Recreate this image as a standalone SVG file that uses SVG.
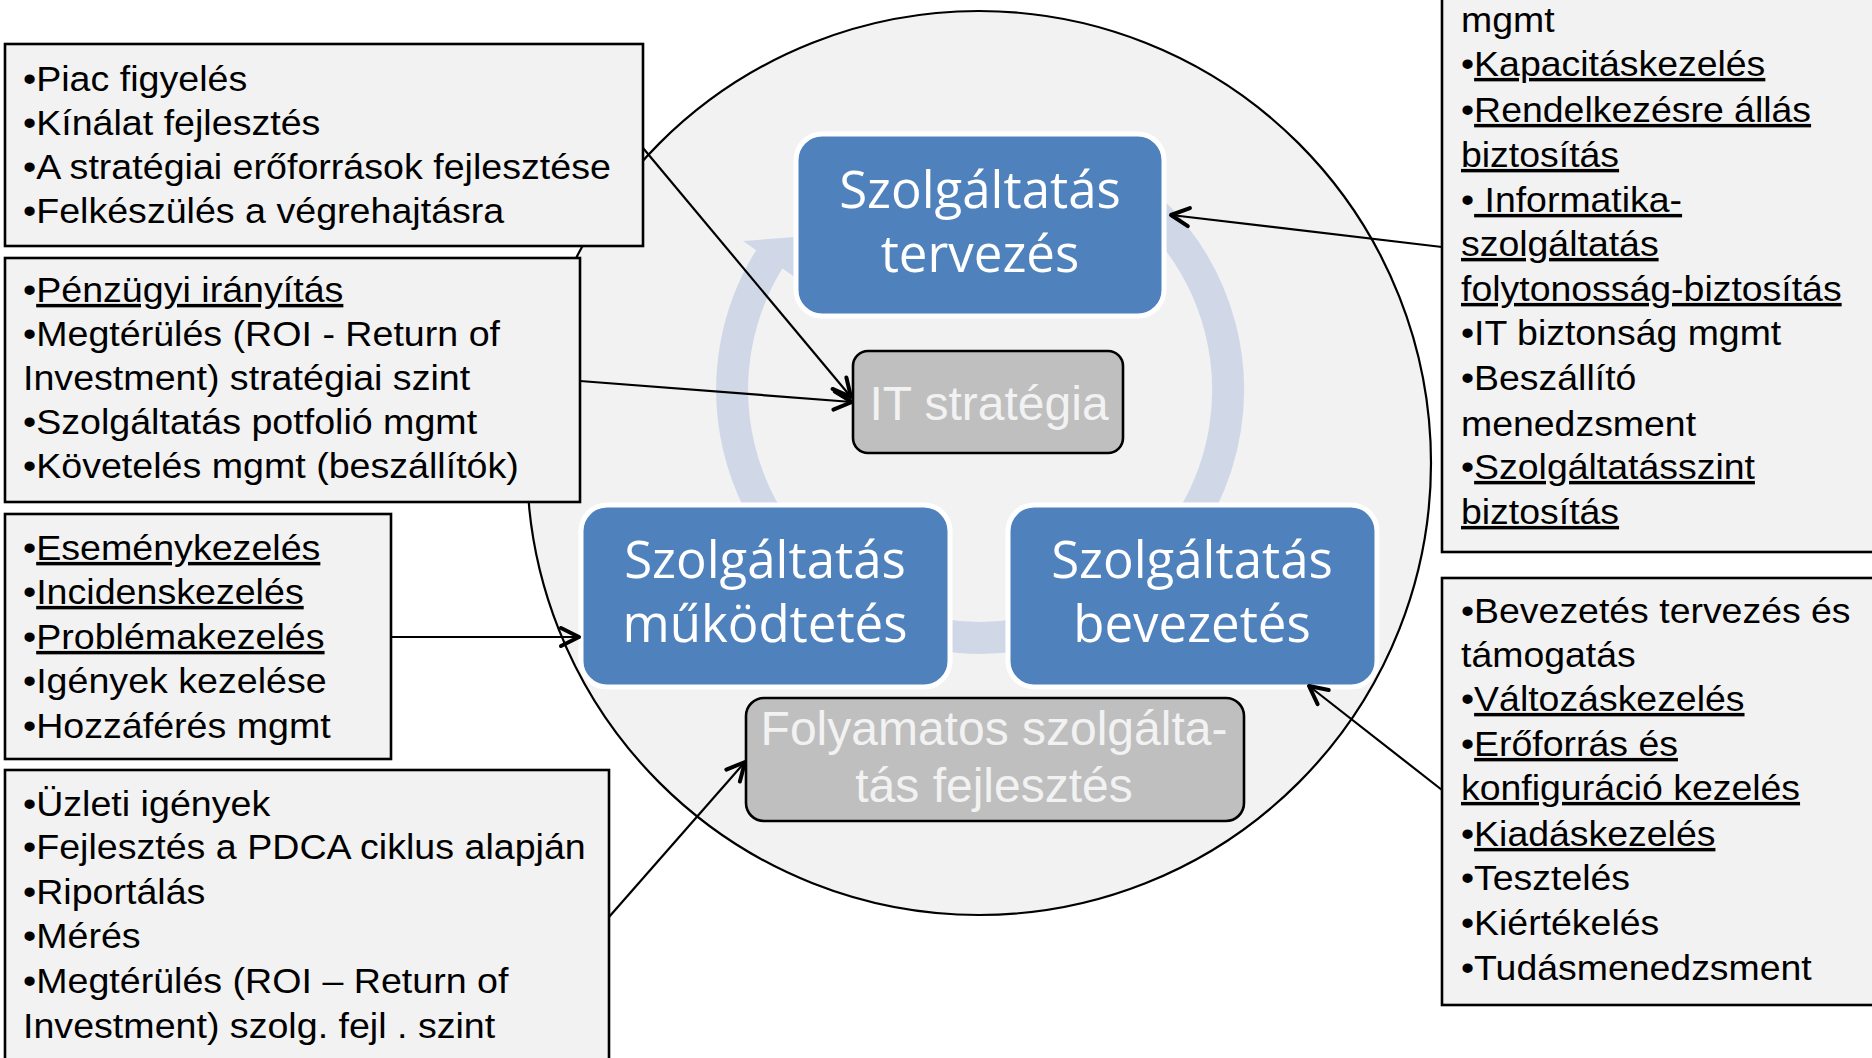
<svg xmlns="http://www.w3.org/2000/svg" width="1872" height="1058" viewBox="0 0 1872 1058">
<defs>
<style>
.bg{fill:#ffffff}
.ell{fill:#f2f2f2;stroke:#000;stroke-width:2.2}
.ring{fill:none;stroke:#d0d8e8;stroke-width:32}
.ringhead{fill:#d0d8e8}
.blue{fill:#4f81bd;stroke:#ffffff;stroke-width:5}
.gray{fill:#bfbfbf;stroke:#000;stroke-width:2.6}
.box{fill:#f2f2f2;stroke:#000;stroke-width:2.6}
.bt{font-family:"Open Sans","Noto Sans",sans-serif;font-size:51px;fill:#ffffff;text-anchor:middle}
.gt{font-family:"Liberation Sans",Arial,sans-serif;font-size:48px;fill:#f2f2f2;text-anchor:middle}
.t{font-family:"Liberation Sans",Arial,sans-serif;font-size:34.5px;fill:#000}
.u{text-decoration:underline}
.con{fill:none;stroke:#000;stroke-width:2.2}
</style>
<marker id="arr" markerUnits="userSpaceOnUse" markerWidth="26" markerHeight="26" viewBox="0 0 26 26" refX="23" refY="13" orient="auto">
<path d="M5,4 L23,13 L5,22" fill="none" stroke="#000" stroke-width="4" stroke-linecap="round" stroke-linejoin="round"/>
</marker>
</defs>
<rect class="bg" x="0" y="0" width="1872" height="1058"/>

<g id="cycle-background">
<circle class="ell" cx="979" cy="463" r="452"/>
<path class="ring" d="M769.7,258.6 A248,248 0 1 0 1104,175"/>
<polygon class="ringhead" points="743,241 808,236 799,280"/>
</g>

<g id="node-tervezes">
<rect class="blue" x="796" y="134" width="368" height="182" rx="26"/>
<text class="bt" x="980" y="208">Szolgáltatás</text>
<text class="bt" x="980" y="272">tervezés</text>
</g>

<g id="node-it-strategia">
<rect class="gray" x="853" y="351" width="270" height="102" rx="15"/>
<text class="gt" x="989" y="420">IT stratégia</text>
</g>

<g id="node-mukodtetes">
<rect class="blue" x="581" y="505" width="369" height="182" rx="26"/>
<text class="bt" x="765" y="578">Szolgáltatás</text>
<text class="bt" x="765" y="642">működtetés</text>
</g>

<g id="node-bevezetes">
<rect class="blue" x="1008" y="505" width="369" height="182" rx="26"/>
<text class="bt" x="1192" y="578">Szolgáltatás</text>
<text class="bt" x="1192" y="642">bevezetés</text>
</g>

<g id="node-folyamatos">
<rect class="gray" x="746" y="698" width="498" height="123" rx="18"/>
<text class="gt" x="994" y="745">Folyamatos szolgálta-</text>
<text class="gt" x="994" y="802">tás fejlesztés</text>
</g>

<g id="box-strategia">
<rect class="box" x="5" y="44" width="638" height="202"/>
<g transform="translate(23,0) scale(1.09,1)">
<text class="t" y="91">•Piac figyelés</text>
<text class="t" y="135">•Kínálat fejlesztés</text>
<text class="t" y="179">•A stratégiai erőforrások fejlesztése</text>
<text class="t" y="223">•Felkészülés a végrehajtásra</text>
</g>
</g>

<g id="box-penzugy">
<rect class="box" x="5" y="258" width="575" height="244"/>
<g transform="translate(23,0) scale(1.09,1)">
<text class="t" y="302">•<tspan class="u">Pénzügyi irányítás</tspan></text>
<text class="t" y="346">•Megtérülés (ROI - Return of</text>
<text class="t" y="390">Investment) stratégiai szint</text>
<text class="t" y="434">•Szolgáltatás potfolió mgmt</text>
<text class="t" y="478">•Követelés mgmt (beszállítók)</text>
</g>
</g>

<g id="box-mukodtetes">
<rect class="box" x="5" y="514" width="386" height="245"/>
<g transform="translate(23,0) scale(1.09,1)">
<text class="t" y="560">•<tspan class="u">Eseménykezelés</tspan></text>
<text class="t" y="604">•<tspan class="u">Incidenskezelés</tspan></text>
<text class="t" y="649">•<tspan class="u">Problémakezelés</tspan></text>
<text class="t" y="693">•Igények kezelése</text>
<text class="t" y="738">•Hozzáférés mgmt</text>
</g>
</g>

<g id="box-fejlesztes">
<rect class="box" x="5" y="770" width="604" height="300"/>
<g transform="translate(23,0) scale(1.09,1)">
<text class="t" y="816">•Üzleti igények</text>
<text class="t" y="859">•Fejlesztés a PDCA ciklus alapján</text>
<text class="t" y="904">•Riportálás</text>
<text class="t" y="948">•Mérés</text>
<text class="t" y="993">•Megtérülés (ROI – Return of</text>
<text class="t" y="1038">Investment) szolg. fejl . szint</text>
</g>
</g>

<g id="box-tervezes">
<rect class="box" x="1442" y="-5" width="440" height="557"/>
<g transform="translate(1461,0) scale(1.085,1)">
<text class="t" y="32">mgmt</text>
<text class="t" y="76">•<tspan class="u">Kapacitáskezelés</tspan></text>
<text class="t" y="122">•<tspan class="u">Rendelkezésre állás</tspan></text>
<text class="t" y="167"><tspan class="u">biztosítás</tspan></text>
<text class="t" y="212">•<tspan class="u"> Informatika-</tspan></text>
<text class="t" y="256"><tspan class="u">szolgáltatás</tspan></text>
<text class="t" y="301"><tspan class="u">folytonosság-biztosítás</tspan></text>
<text class="t" y="345">•IT biztonság mgmt</text>
<text class="t" y="390">•Beszállító</text>
<text class="t" y="436">menedzsment</text>
<text class="t" y="479">•<tspan class="u">Szolgáltatásszint</tspan></text>
<text class="t" y="524"><tspan class="u">biztosítás</tspan></text>
</g>
</g>

<g id="box-bevezetes">
<rect class="box" x="1442" y="578" width="440" height="427"/>
<g transform="translate(1461,0) scale(1.085,1)">
<text class="t" y="623">•Bevezetés tervezés és</text>
<text class="t" y="667">támogatás</text>
<text class="t" y="711">•<tspan class="u">Változáskezelés</tspan></text>
<text class="t" y="756">•<tspan class="u">Erőforrás és</tspan></text>
<text class="t" y="800"><tspan class="u">konfiguráció kezelés</tspan></text>
<text class="t" y="846">•<tspan class="u">Kiadáskezelés</tspan></text>
<text class="t" y="890">•Tesztelés</text>
<text class="t" y="935">•Kiértékelés</text>
<text class="t" y="980">•Tudásmenedzsment</text>
</g>
</g>

<g id="connectors">
<line class="con" x1="643" y1="148" x2="851" y2="397" marker-end="url(#arr)"/>
<line class="con" x1="580" y1="381" x2="852" y2="402" marker-end="url(#arr)"/>
<line class="con" x1="1442" y1="247" x2="1171" y2="215" marker-end="url(#arr)"/>
<line class="con" x1="391" y1="637" x2="579" y2="637" marker-end="url(#arr)"/>
<line class="con" x1="609" y1="917" x2="745" y2="762" marker-end="url(#arr)"/>
<line class="con" x1="1442" y1="790" x2="1309" y2="686" marker-end="url(#arr)"/>
</g>
</svg>
